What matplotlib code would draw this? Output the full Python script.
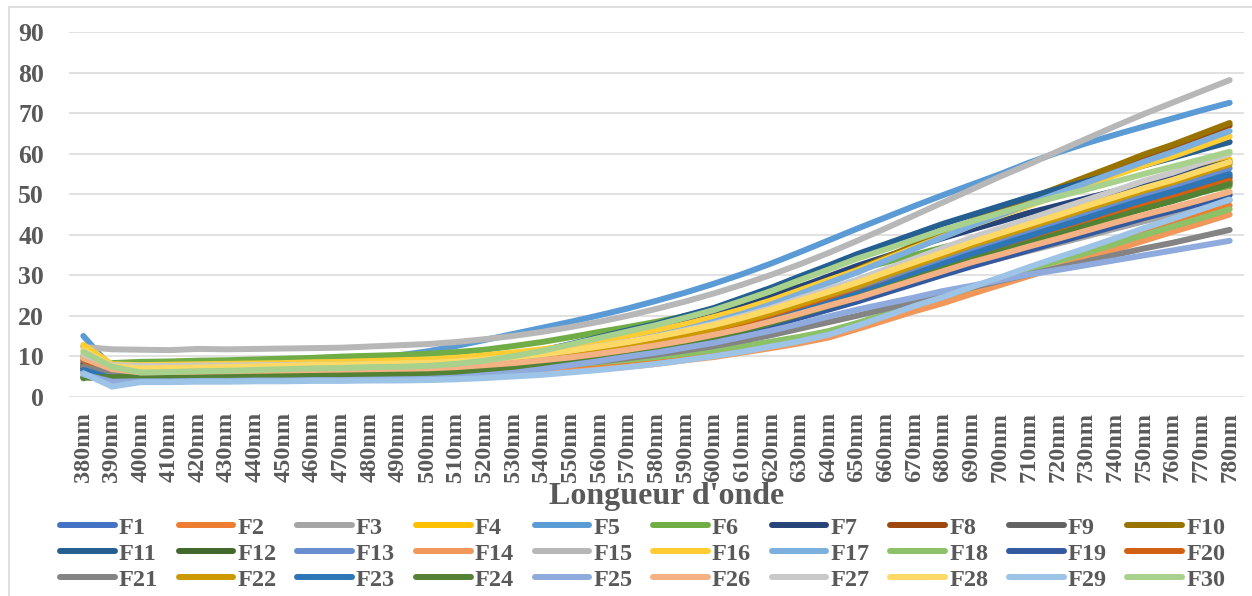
import matplotlib
matplotlib.use('Agg')
import matplotlib.pyplot as plt
from matplotlib.patches import Rectangle

plt.rcParams['font.family'] = ['Liberation Serif', 'DejaVu Serif']
plt.rcParams['font.weight'] = 'bold'

wavelengths = [380, 390, 400, 410, 420, 430, 440, 450, 460, 470, 480, 490, 500,
               510, 520, 530, 540, 550, 560, 570, 580, 590, 600, 610, 620, 630,
               640, 650, 660, 670, 680, 690, 700, 710, 720, 730, 740, 750, 760,
               770, 780]
categories = [f"{w}nm" for w in wavelengths]

F1 = [6.5, 5.0, 5.0, 5.1, 5.1, 5.2, 5.3, 5.3, 5.4, 5.5, 5.6, 5.7, 5.8, 6.1, 6.7, 7.3, 8.0, 8.8, 9.8, 10.9, 12.1, 13.5, 15.1, 16.8, 18.7, 20.9, 23.1, 25.3, 27.7, 30.2, 32.6, 35.0, 37.2, 39.4, 41.6, 43.8, 46.0, 48.2, 50.1, 52.3, 54.5]
F2 = [7.0, 5.2, 4.6, 4.6, 4.7, 4.7, 4.7, 4.8, 4.8, 4.9, 4.9, 5.0, 5.0, 5.2, 5.5, 5.8, 6.3, 6.8, 7.4, 8.0, 8.8, 9.6, 10.6, 11.6, 12.8, 14.1, 15.6, 17.7, 20.0, 22.3, 24.4, 26.7, 29.1, 31.4, 33.7, 35.8, 38.1, 40.5, 42.7, 44.9, 47.2]
F3 = [8.0, 7.5, 7.5, 7.5, 7.6, 7.6, 7.7, 7.7, 7.8, 7.9, 8.0, 8.1, 8.2, 8.5, 8.9, 9.4, 10.0, 10.7, 11.5, 12.4, 13.4, 14.6, 15.9, 17.3, 18.9, 20.7, 22.5, 24.3, 26.3, 28.4, 30.4, 32.4, 34.2, 36.0, 37.8, 39.6, 41.5, 43.3, 44.9, 46.7, 48.5]
F4 = [12.5, 7.8, 6.8, 6.9, 6.9, 7.0, 7.0, 7.1, 7.2, 7.3, 7.4, 7.5, 7.6, 8.0, 8.5, 9.1, 9.9, 10.8, 11.8, 13.0, 14.2, 15.7, 17.3, 19.1, 21.1, 23.4, 25.7, 28.0, 30.6, 33.1, 35.7, 38.2, 40.5, 42.8, 45.1, 47.4, 49.7, 52.0, 54.0, 56.3, 58.6]
F5 = [15.0, 7.0, 7.5, 7.7, 7.9, 8.0, 8.2, 8.4, 8.6, 9.0, 9.5, 10.2, 11.2, 12.5, 14.0, 15.5, 17.0, 18.5, 20.1, 21.8, 23.7, 25.7, 27.9, 30.3, 32.9, 35.7, 38.6, 41.5, 44.3, 47.1, 49.8, 52.4, 55.0, 57.8, 60.3, 62.6, 64.7, 66.7, 68.7, 70.7, 72.6]
F6 = [4.5, 8.3, 8.6, 8.7, 8.9, 9.0, 9.2, 9.4, 9.6, 9.9, 10.1, 10.3, 10.6, 11.0, 11.6, 12.5, 13.5, 14.7, 16.0, 17.2, 18.5, 19.9, 21.4, 23.2, 25.1, 27.2, 29.2, 31.3, 33.2, 35.0, 36.9, 38.5, 40.2, 41.9, 43.3, 44.8, 46.2, 47.7, 49.1, 50.6, 52.0]
F7 = [7.0, 5.5, 5.8, 5.8, 5.9, 5.9, 6.0, 6.1, 6.1, 6.2, 6.3, 6.4, 6.5, 7.0, 7.8, 8.8, 10.1, 11.7, 13.2, 14.7, 16.3, 18.1, 19.9, 22.2, 24.5, 27.1, 29.7, 32.3, 34.6, 36.9, 39.2, 41.3, 43.3, 45.4, 47.2, 49.0, 50.8, 52.6, 54.4, 56.2, 58.0]
F8 = [7.5, 6.0, 6.0, 6.0, 6.1, 6.2, 6.2, 6.3, 6.4, 6.5, 6.6, 6.7, 6.8, 7.2, 7.9, 8.6, 9.5, 10.5, 11.7, 13.1, 14.6, 16.3, 18.2, 20.4, 22.8, 25.5, 28.2, 30.9, 33.9, 36.9, 39.9, 42.9, 45.6, 48.3, 51.0, 53.8, 56.5, 59.2, 61.6, 64.3, 67.0]
F9 = [7.5, 5.5, 5.6, 5.6, 5.7, 5.7, 5.8, 5.8, 5.9, 6.0, 6.0, 6.1, 6.2, 6.5, 7.1, 7.6, 8.4, 9.2, 10.1, 11.2, 12.4, 13.8, 15.3, 17.0, 18.9, 21.0, 23.2, 25.3, 27.7, 30.1, 32.5, 34.9, 37.0, 39.2, 41.3, 43.5, 45.6, 47.8, 49.7, 51.9, 54.0]
F10 = [8.0, 6.2, 6.5, 6.5, 6.6, 6.7, 6.7, 6.8, 6.9, 7.0, 7.0, 7.1, 7.2, 7.6, 8.3, 9.0, 9.9, 10.9, 12.2, 13.5, 15.1, 16.7, 18.7, 20.8, 23.2, 25.9, 28.6, 31.4, 34.4, 37.4, 40.4, 43.4, 46.2, 48.9, 51.6, 54.3, 57.0, 59.8, 62.2, 64.9, 67.6]
F11 = [8.5, 6.5, 6.6, 6.7, 6.8, 6.8, 6.9, 7.0, 7.1, 7.2, 7.3, 7.4, 7.5, 8.1, 8.9, 10.0, 11.4, 13.0, 14.7, 16.4, 18.0, 20.0, 21.9, 24.4, 26.9, 29.7, 32.4, 35.2, 37.7, 40.2, 42.7, 44.9, 47.1, 49.3, 51.3, 53.2, 55.1, 57.1, 59.0, 61.0, 62.9]
F12 = [4.8, 4.5, 4.8, 4.9, 4.9, 5.0, 5.0, 5.1, 5.2, 5.2, 5.3, 5.4, 5.5, 5.8, 6.4, 6.9, 7.6, 8.4, 9.4, 10.5, 11.7, 13.0, 14.5, 16.2, 18.1, 20.2, 22.3, 24.5, 26.8, 29.2, 31.6, 33.9, 36.1, 38.2, 40.3, 42.5, 44.6, 46.7, 48.6, 50.8, 52.9]
F13 = [6.0, 4.8, 5.0, 5.1, 5.1, 5.2, 5.3, 5.4, 5.4, 5.5, 5.6, 5.7, 5.8, 6.2, 6.7, 7.3, 8.1, 8.9, 10.0, 11.1, 12.4, 13.8, 15.4, 17.2, 19.2, 21.5, 23.8, 26.0, 28.6, 31.1, 33.6, 36.2, 38.4, 40.7, 43.0, 45.3, 47.5, 49.8, 51.8, 54.1, 56.4]
F14 = [6.5, 5.0, 4.3, 4.3, 4.3, 4.3, 4.4, 4.4, 4.4, 4.4, 4.5, 4.5, 4.5, 4.7, 5.0, 5.3, 5.7, 6.2, 6.8, 7.4, 8.1, 9.0, 9.8, 10.9, 12.0, 13.2, 14.6, 16.7, 18.9, 21.1, 23.1, 25.4, 27.6, 29.8, 32.0, 34.1, 36.3, 38.5, 40.7, 42.8, 45.0]
F15 = [12.3, 11.7, 11.6, 11.5, 11.8, 11.7, 11.8, 11.9, 12.0, 12.1, 12.4, 12.7, 13.0, 13.5, 14.2, 15.0, 16.0, 17.2, 18.5, 20.0, 21.7, 23.5, 25.5, 27.7, 30.1, 32.7, 35.5, 38.5, 41.6, 44.8, 48.0, 51.2, 54.4, 57.4, 60.6, 63.7, 66.8, 69.8, 72.6, 75.4, 78.2]
F16 = [12.8, 8.0, 7.8, 7.9, 8.0, 8.1, 8.2, 8.3, 8.5, 8.6, 8.8, 9.0, 9.2, 9.6, 10.2, 10.9, 11.7, 12.6, 13.7, 15.0, 16.4, 17.9, 19.7, 21.6, 23.8, 26.3, 28.8, 31.2, 34.0, 36.8, 39.5, 42.3, 44.7, 47.2, 49.7, 52.2, 54.7, 57.1, 59.3, 61.8, 64.3]
F17 = [9.0, 6.5, 6.5, 6.6, 6.7, 6.7, 6.8, 6.9, 7.0, 7.1, 7.2, 7.3, 7.4, 7.8, 8.5, 9.2, 10.0, 11.0, 12.2, 13.5, 15.0, 16.6, 18.5, 20.5, 22.8, 25.4, 28.1, 30.7, 33.6, 36.5, 39.4, 42.3, 44.9, 47.6, 50.2, 52.8, 55.4, 58.0, 60.4, 63.0, 65.6]
F18 = [9.5, 6.8, 6.0, 6.0, 6.0, 6.0, 6.1, 6.1, 6.1, 6.1, 6.2, 6.2, 6.2, 6.4, 6.7, 7.0, 7.4, 7.9, 8.5, 9.1, 9.8, 10.6, 11.5, 12.5, 13.6, 14.8, 16.2, 18.2, 20.4, 22.6, 24.7, 26.9, 29.1, 31.3, 33.5, 35.5, 37.7, 39.9, 42.0, 44.1, 46.3]
F19 = [6.8, 5.2, 5.2, 5.3, 5.3, 5.4, 5.4, 5.5, 5.6, 5.6, 5.7, 5.8, 5.9, 6.2, 6.7, 7.2, 7.9, 8.6, 9.5, 10.5, 11.6, 12.8, 14.2, 15.8, 17.5, 19.5, 21.5, 23.5, 25.7, 27.9, 30.1, 32.2, 34.2, 36.2, 38.2, 40.1, 42.1, 44.1, 45.9, 47.8, 49.8]
F20 = [9.0, 6.5, 6.3, 6.4, 6.5, 6.5, 6.6, 6.7, 6.8, 6.9, 7.0, 7.1, 7.2, 7.5, 8.0, 8.6, 9.3, 10.1, 11.0, 12.0, 13.2, 14.5, 16.0, 17.6, 19.4, 21.5, 23.6, 25.6, 27.9, 30.3, 32.6, 34.9, 36.9, 39.0, 41.1, 43.2, 45.2, 47.3, 49.2, 51.2, 53.3]
F21 = [7.4, 5.8, 5.4, 5.4, 5.5, 5.5, 5.5, 5.6, 5.6, 5.7, 5.7, 5.8, 5.8, 6.1, 6.4, 6.9, 7.4, 8.0, 8.7, 9.5, 10.4, 11.4, 12.5, 13.8, 15.2, 16.8, 18.4, 20.0, 21.7, 23.5, 25.3, 27.0, 28.6, 30.2, 31.8, 33.4, 35.0, 36.6, 38.0, 39.6, 41.2]
F22 = [10.0, 7.0, 6.5, 6.6, 6.7, 6.7, 6.8, 6.9, 7.0, 7.0, 7.1, 7.2, 7.3, 7.7, 8.2, 8.8, 9.6, 10.4, 11.4, 12.6, 13.8, 15.2, 16.8, 18.6, 20.6, 22.8, 25.1, 27.3, 29.9, 32.4, 34.9, 37.4, 39.6, 41.9, 44.1, 46.4, 48.6, 50.9, 52.9, 55.2, 57.4]
F23 = [6.6, 4.5, 4.8, 4.9, 4.9, 5.0, 5.1, 5.1, 5.2, 5.3, 5.4, 5.5, 5.6, 6.0, 6.5, 7.1, 7.8, 8.7, 9.7, 10.8, 12.0, 13.4, 15.0, 16.7, 18.7, 20.9, 23.1, 25.4, 27.8, 30.3, 32.8, 35.2, 37.5, 39.7, 41.9, 44.1, 46.4, 48.6, 50.6, 52.8, 55.0]
F24 = [4.8, 4.8, 5.0, 5.1, 5.1, 5.2, 5.2, 5.3, 5.4, 5.4, 5.5, 5.6, 5.8, 6.1, 6.6, 7.2, 7.9, 8.7, 9.6, 10.7, 11.9, 13.2, 14.7, 16.3, 18.2, 20.3, 22.4, 24.5, 26.8, 29.2, 31.5, 33.8, 35.9, 38.0, 40.1, 42.2, 44.3, 46.4, 48.3, 50.4, 52.5]
F25 = [5.5, 3.7, 3.8, 3.8, 3.9, 3.9, 4.0, 4.0, 4.1, 4.1, 4.2, 4.3, 4.4, 4.7, 5.3, 5.9, 6.8, 7.8, 8.8, 9.9, 10.9, 12.1, 13.3, 14.8, 16.3, 18.0, 19.8, 21.5, 23.0, 24.5, 26.1, 27.4, 28.8, 30.2, 31.3, 32.5, 33.7, 34.9, 36.1, 37.3, 38.5]
F26 = [9.5, 6.8, 6.0, 6.1, 6.2, 6.3, 6.4, 6.5, 6.6, 6.7, 6.8, 6.9, 7.0, 7.3, 7.8, 8.3, 9.0, 9.7, 10.6, 11.6, 12.7, 13.9, 15.3, 16.8, 18.6, 20.5, 22.5, 24.4, 26.6, 28.8, 31.0, 33.2, 35.1, 37.1, 39.0, 41.0, 43.0, 44.9, 46.7, 48.6, 50.6]
F27 = [10.5, 7.8, 7.6, 7.6, 7.7, 7.7, 7.8, 7.8, 7.9, 7.9, 8.0, 8.1, 8.2, 8.6, 9.1, 9.8, 10.5, 11.4, 12.5, 13.6, 14.9, 16.4, 18.0, 19.9, 21.9, 24.3, 26.6, 28.9, 31.5, 34.1, 36.7, 39.3, 41.6, 43.9, 46.3, 48.6, 50.9, 53.3, 55.3, 57.7, 60.0]
F28 = [11.5, 7.5, 7.0, 7.1, 7.2, 7.3, 7.5, 7.6, 7.8, 7.9, 8.0, 8.2, 8.3, 8.7, 9.2, 9.8, 10.5, 11.4, 12.4, 13.5, 14.8, 16.2, 17.7, 19.5, 21.5, 23.7, 25.9, 28.2, 30.7, 33.2, 35.6, 38.1, 40.4, 42.6, 44.8, 47.1, 49.3, 51.5, 53.5, 55.8, 58.0]
F29 = [5.8, 2.5, 3.6, 3.6, 3.7, 3.7, 3.8, 3.8, 3.9, 3.9, 4.0, 4.0, 4.1, 4.3, 4.6, 5.0, 5.4, 6.0, 6.6, 7.3, 8.1, 9.0, 10.0, 11.1, 12.4, 13.7, 15.3, 17.5, 19.9, 22.4, 24.6, 27.1, 29.5, 32.0, 34.4, 36.7, 39.1, 41.6, 43.9, 46.3, 48.7]
F30 = [11.1, 7.4, 6.0, 6.1, 6.3, 6.4, 6.6, 6.8, 7.0, 7.1, 7.3, 7.4, 7.6, 8.1, 8.9, 10.0, 11.3, 12.9, 14.5, 16.1, 17.7, 19.5, 21.4, 23.7, 26.1, 28.8, 31.4, 34.1, 36.4, 38.8, 41.2, 43.3, 45.4, 47.5, 49.4, 51.2, 53.1, 55.0, 56.8, 58.6, 60.5]

series = [F1, F2, F3, F4, F5, F6, F7, F8, F9, F10,
          F11, F12, F13, F14, F15, F16, F17, F18, F19, F20,
          F21, F22, F23, F24, F25, F26, F27, F28, F29, F30]
names = [f"F{i}" for i in range(1, 31)]
colors = ['#4472C4', '#ED7D31', '#A5A5A5', '#FFC000', '#5B9BD5', '#70AD47',
          '#264478', '#9E480E', '#636363', '#997300', '#255E91', '#43682B',
          '#698ED0', '#F1975A', '#B7B7B7', '#FFCD33', '#7CAFDD', '#8CC168',
          '#335AA1', '#D26012', '#848484', '#CC9A00', '#2E75B6', '#548235',
          '#8FAADC', '#F4B183', '#C9C9C9', '#FFD966', '#9DC3E6', '#A9D18E']

W, H = 1252, 596
fig = plt.figure(figsize=(W / 100, H / 100), dpi=100)
ax = fig.add_axes([69 / W, 1 - 396.7 / H, 1175 / W, 364.4 / H])

xpos = list(range(len(categories)))
handles = []
for s, c, n in zip(series, colors, names):
    h, = ax.plot(xpos, s, color=c, lw=4.3, solid_capstyle='round',
                 solid_joinstyle='round', label=n)
    handles.append(h)

ax.set_xlim(-0.5, len(categories) - 0.5)
ax.set_ylim(0, 90)
ax.set_yticks(range(0, 100, 10))
ax.grid(axis='y', color='#D9D9D9', lw=1.1)
ax.set_axisbelow(True)
for sp in ax.spines.values():
    sp.set_visible(False)
ax.set_xticks(xpos)
ax.set_xticklabels(categories, rotation=90, fontsize=17.5, fontweight='bold',
                   color='#595959')
ax.tick_params(axis='x', length=0, pad=11)
ax.tick_params(axis='y', length=0, pad=18, labelsize=18.5, labelcolor='#595959')

fig.text(667 / W, 1 - 504 / H, "Longueur d'onde", ha='center', va='baseline',
         fontsize=23, fontweight='bold', color='#595959')

order = [r * 10 + c for c in range(10) for r in range(3)]
fig.legend([handles[i] for i in order], [names[i] for i in order], ncol=10,
           loc='upper left', bbox_to_anchor=(60 / W, 1 - 516.5 / H),
           frameon=False, borderpad=0, borderaxespad=0,
           prop={'weight': 'bold', 'size': 17.5}, handlelength=2.25,
           handletextpad=0.17, columnspacing=0.85, labelspacing=0.17,
           labelcolor='#595959')

fig.add_artist(Rectangle((9 / W, -0.05), 1.0, (1 - 7 / H) + 0.05,
                         transform=fig.transFigure, fill=False,
                         edgecolor='#D9D9D9', lw=1.2))

fig.savefig('out.png', dpi=100)
